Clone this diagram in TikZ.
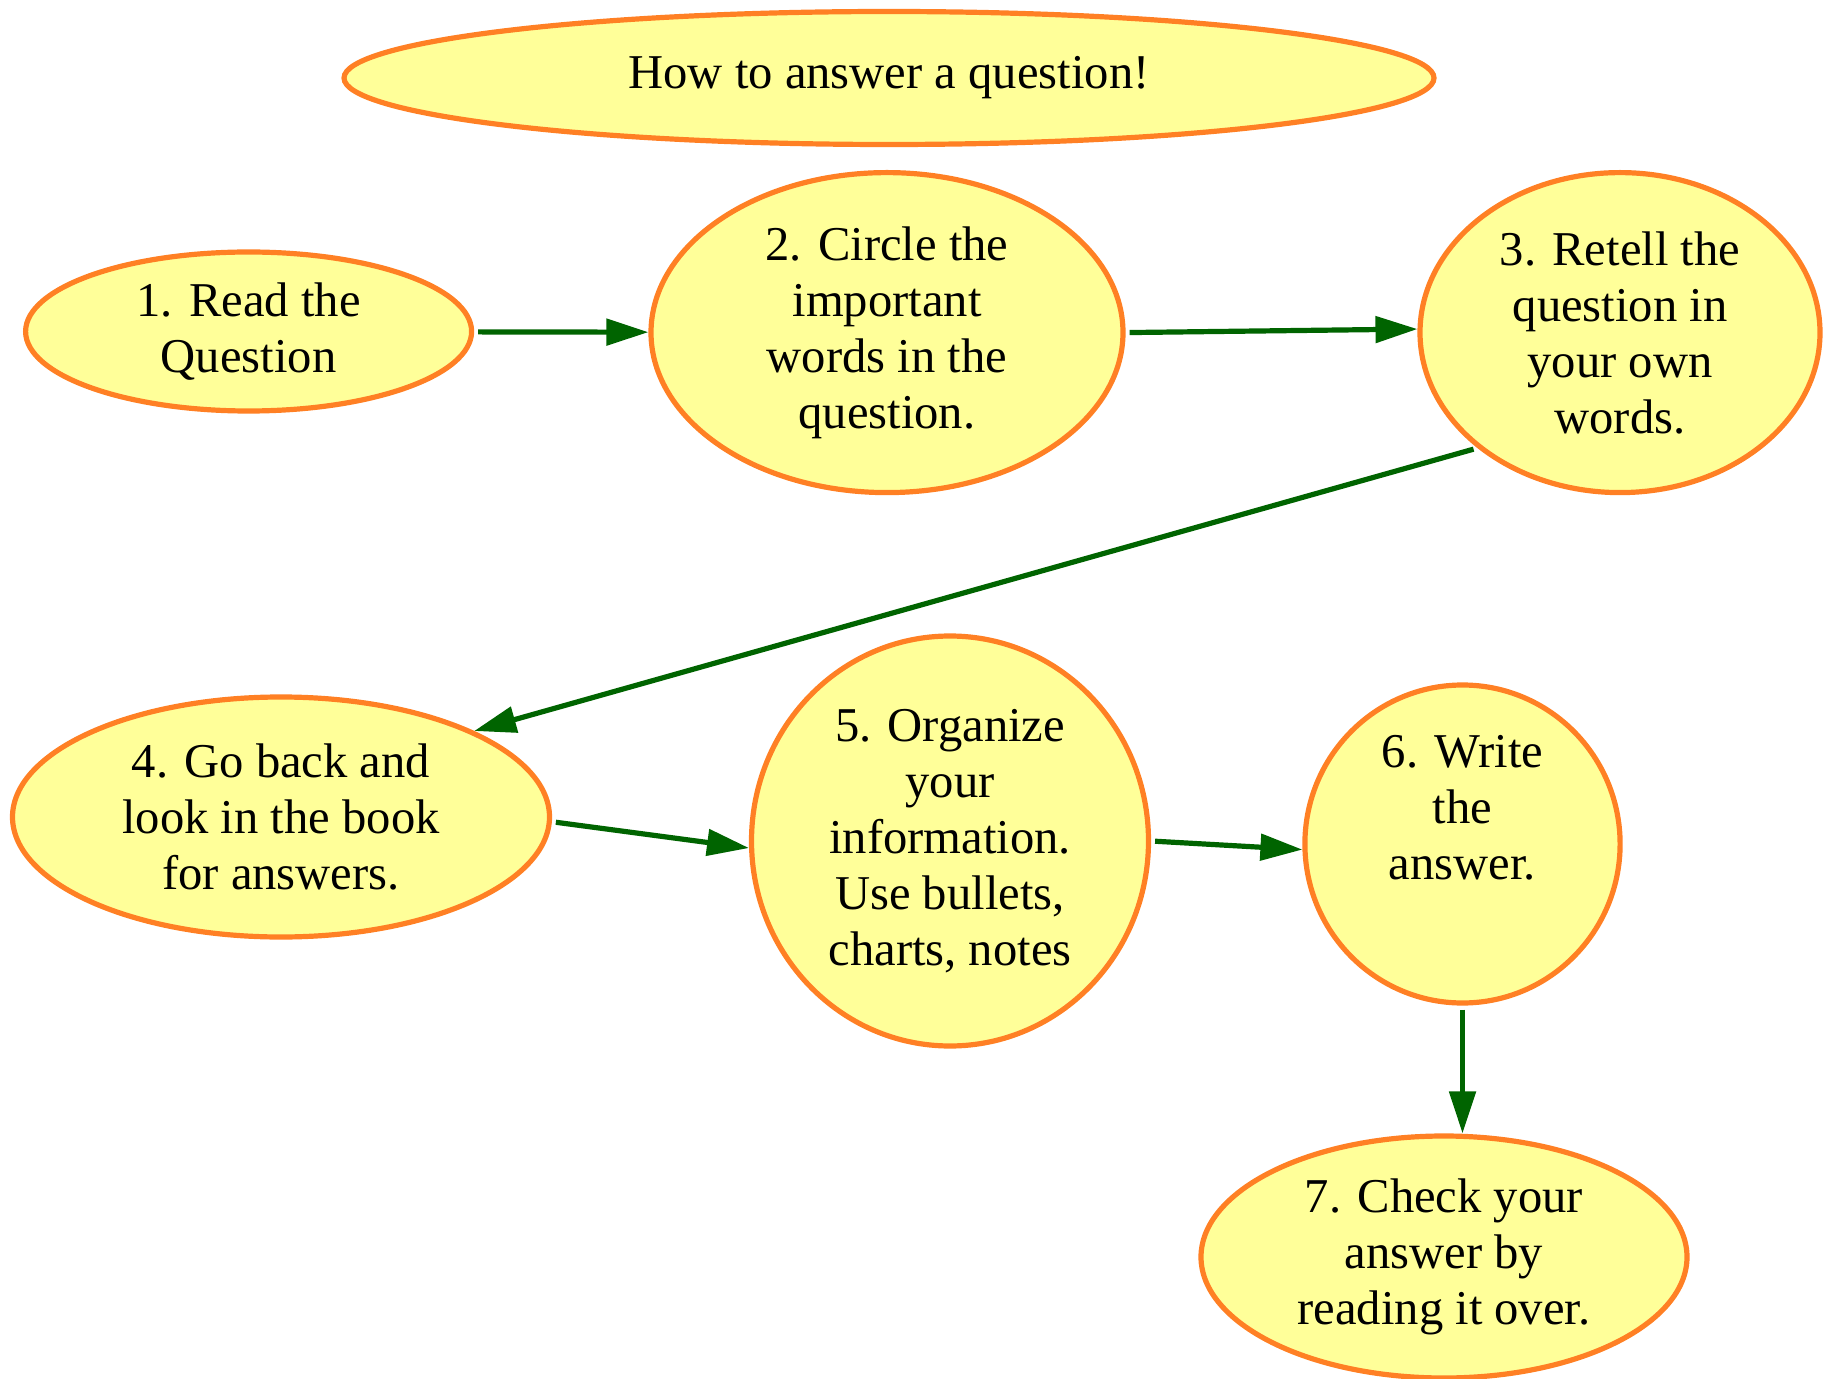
\documentclass[tikz,border=0pt]{standalone}
\usepackage{fontspec}
\setmainfont{Liberation Serif}
\usetikzlibrary{shapes.geometric,arrows.meta}
\definecolor{nodefill}{HTML}{FFFF99}
\definecolor{nodeline}{HTML}{FF8024}
\definecolor{edgegreen}{HTML}{006400}
\begin{document}
\begin{tikzpicture}[x=0.5pt,y=-0.5pt,
  stepnode/.style={ellipse, draw=nodeline, fill=nodefill, line width=2.6pt,
    inner sep=0pt, align=center, font=\fontsize{24.3}{28}\selectfont},
  flow/.style={draw=edgegreen, line width=2.6pt,
    -{Triangle[length=21pt,width=13pt]}, shorten <=2pt}]
\useasboundingbox (0,0) rectangle (1830,1379);
\node[stepnode, minimum width=545pt, minimum height=66.5pt] (title) at (889,78) {How to answer a question!};
\node[stepnode, minimum width=223pt, minimum height=79.5pt] (n1) at (248.6,331.5) {1. Read the\\Question};
\node[stepnode, minimum width=236pt, minimum height=160pt] (n2) at (887,332.6) {2. Circle the\\important\\words in the\\question.};
\node[stepnode, minimum width=200pt, minimum height=160pt] (n3) at (1620,332.6) {3. Retell the\\question in\\your own\\words.};
\node[stepnode, minimum width=268.5pt, minimum height=120pt] (n4) at (281,817) {4. Go back and\\look in the book\\for answers.};
\node[stepnode, minimum width=198.5pt, minimum height=205pt] (n5) at (950,841) {5. Organize\\your\\information.\\Use bullets,\\charts, notes};
\node[stepnode, minimum width=157.6pt, minimum height=159pt] (n6) at (1462.5,844) {6. Write\\the\\answer.\\\strut};
\node[stepnode, minimum width=243pt, minimum height=121pt] (n7) at (1444,1257) {7. Check your\\answer by\\reading it over.};
\draw[flow] (n1) -- (n2);
\draw[flow] (n2.-0.5) -- (n3.179.5);
\draw[flow] (n3.219.7) -- (n4.24.8);
\draw[flow] (n4.-1) -- (n5.182);
\draw[flow] (n5.0) -- (n6.182);
\draw[flow] (n6.south) -- (n6.south |- n7.north);
\end{tikzpicture}
\end{document}
